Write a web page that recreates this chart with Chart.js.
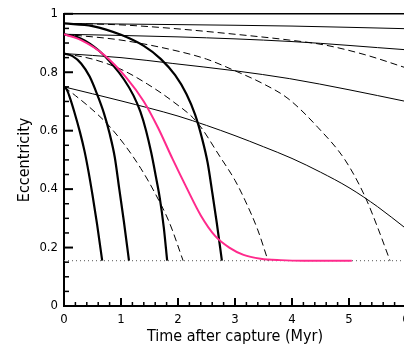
<!DOCTYPE html>
<html>
<head>
<meta charset="utf-8">
<script src="https://cdn.jsdelivr.net/npm/chart.js@4.4.1/dist/chart.umd.min.js"></script>
<style>
  html, body { margin: 0; padding: 0; background: #fff; overflow: hidden; }
  #wrap { position: relative; width: 424px; height: 348px; }
</style>
</head>
<body>
<div id="wrap"><canvas id="myChart"></canvas></div>
<script>
// time after capture (Myr) and eccentricity
// thick solid = fast decay, dashed = medium, thin solid = slow
const fast97T = [0, 0.5, 1.0, 1.4, 1.7, 1.95, 2.15, 2.3, 2.42, 2.52, 2.6, 2.68, 2.77];
const fast97E = [0.967, 0.958, 0.928, 0.89, 0.845, 0.79, 0.725, 0.655, 0.575, 0.49, 0.39, 0.285, 0.155];
const fast93T = [0, 0.3, 0.6, 0.85, 1.05, 1.22, 1.34, 1.44, 1.53, 1.61, 1.68, 1.75, 1.81];
const fast93E = [0.93, 0.915, 0.876, 0.826, 0.776, 0.72, 0.665, 0.60, 0.525, 0.445, 0.37, 0.27, 0.155];
const fast86T = [0, 0.15, 0.3, 0.45, 0.58, 0.7, 0.8, 0.89, 0.97, 1.05, 1.14];
const fast86E = [0.864, 0.855, 0.83, 0.785, 0.725, 0.66, 0.59, 0.51, 0.40, 0.29, 0.155];
const fast75T = [0, 0.05, 0.1, 0.18, 0.28, 0.36, 0.43, 0.5, 0.58, 0.67];
const fast75E = [0.75, 0.74, 0.715, 0.665, 0.595, 0.53, 0.46, 0.38, 0.28, 0.155];

const mid97T = [0, 1.0, 1.9, 3.0, 3.96, 4.58, 5.28, 6.0];
const mid97E = [0.967, 0.962, 0.95, 0.93, 0.91, 0.893, 0.86, 0.815];
const mid93T = [0, 1, 2, 2.5, 3, 3.5, 3.93, 4.46, 4.93, 5.28, 5.5, 5.72];
const mid93E = [0.93, 0.91, 0.872, 0.845, 0.805, 0.76, 0.71, 0.61, 0.50, 0.375, 0.27, 0.155];
const mid86T = [0, 0.5, 1.0, 1.46, 1.91, 2.33, 2.74, 3.0, 3.18, 3.4, 3.58];
const mid86E = [0.864, 0.845, 0.81, 0.76, 0.70, 0.63, 0.51, 0.43, 0.36, 0.26, 0.155];
const mid75T = [0, 0.2, 0.45, 0.75, 1.05, 1.35, 1.6, 1.85, 2.09];
const mid75E = [0.75, 0.72, 0.68, 0.625, 0.555, 0.47, 0.385, 0.285, 0.155];

const slow97T = [0, 2, 4, 6];
const slow97E = [0.967, 0.963, 0.958, 0.949];
const slow93T = [0, 2, 4, 6];
const slow93E = [0.93, 0.921, 0.905, 0.877];
const slow86T = [0, 1, 1.91, 3, 3.96, 5, 6];
const slow86E = [0.864, 0.85, 0.83, 0.805, 0.778, 0.74, 0.70];
const slow75T = [0, 1, 2, 2.5, 3, 3.5, 4, 4.5, 5, 5.5, 6];
const slow75E = [0.75, 0.702, 0.65, 0.618, 0.583, 0.545, 0.505, 0.458, 0.405, 0.34, 0.265];

const pinkT = [0, 0.3, 0.7, 1.1, 1.4, 1.65, 1.9, 2.15, 2.4, 2.65, 2.9, 3.15, 3.45, 3.8, 4.2, 5.05];
const pinkE = [0.93, 0.91, 0.86, 0.78, 0.70, 0.61, 0.505, 0.405, 0.31, 0.24, 0.2, 0.175, 0.162, 0.157, 0.155, 0.155];

const floorT = [0, 6];
const floorE = [0.155, 0.155];

const xTicks = [0, 1, 2, 3, 4, 5, 6];
const yTicks = [0, 0.2, 0.4, 0.6, 0.8, 1];

Chart.defaults.font.family = "'Liberation Sans Narrow', 'DejaVu Sans Condensed', sans-serif";
Chart.defaults.color = '#000';

function pts(ts, es) {
  return ts.map((t, i) => ({ x: t, y: es[i] }));
}

const thick = { borderColor: '#000', borderWidth: 2.2 };
const thin = { borderColor: '#000', borderWidth: 1 };
const dash = { borderColor: '#000', borderWidth: 1, borderDash: [7, 4] };

function line(ts, es, style) {
  return Object.assign({ data: pts(ts, es), pointRadius: 0, cubicInterpolationMode: 'monotone', fill: false }, style);
}

// inward minor/major tick marks and the top frame line
const frame = {
  id: 'frame',
  afterDatasetsDraw(chart) {
    const { ctx, chartArea: a, scales: { x, y } } = chart;
    ctx.save();
    ctx.strokeStyle = '#000';
    ctx.lineWidth = 1.5;
    ctx.beginPath();
    ctx.moveTo(a.left, a.top);
    ctx.lineTo(a.right, a.top);
    ctx.stroke();
    for (let i = 0; i <= 30; i++) {
      const px = x.getPixelForValue(i * 0.2);
      const major = i % 5 === 0;
      ctx.lineWidth = major ? 2 : 1.5;
      ctx.beginPath();
      ctx.moveTo(px, a.bottom);
      ctx.lineTo(px, a.bottom - (major ? 8 : 4));
      ctx.stroke();
    }
    for (let i = 0; i <= 20; i++) {
      const py = y.getPixelForValue(i * 0.05);
      const major = i % 4 === 0;
      ctx.lineWidth = major ? 2 : 1.5;
      ctx.beginPath();
      ctx.moveTo(a.left, py);
      ctx.lineTo(a.left + (major ? 9 : 5), py);
      ctx.stroke();
    }
    ctx.restore();
  }
};

const ctx = document.getElementById('myChart').getContext('2d');

new Chart(ctx, {
  type: 'line',
  data: {
    datasets: [
      line(pinkT, pinkE, { borderColor: '#ff2a8c', borderWidth: 2 }),
      line(fast97T, fast97E, thick),
      line(fast93T, fast93E, thick),
      line(fast86T, fast86E, thick),
      line(fast75T, fast75E, thick),
      line(mid97T, mid97E, dash),
      line(mid93T, mid93E, dash),
      line(mid86T, mid86E, dash),
      line(mid75T, mid75E, dash),
      line(slow97T, slow97E, thin),
      line(slow93T, slow93E, thin),
      line(slow86T, slow86E, thin),
      line(slow75T, slow75E, thin),
      line(floorT, floorE, { borderColor: '#777', borderWidth: 1.2, borderDash: [1, 3], tension: 0 })
    ]
  },
  options: {
    responsive: true,
    maintainAspectRatio: false,
    animation: false,
    events: [],
    layout: { padding: { top: 12, right: 18, left: 0, bottom: 0 } },
    plugins: { legend: { display: false }, tooltip: { enabled: false } },
    scales: {
      x: {
        type: 'linear',
        min: 0,
        max: 6,
        afterBuildTicks(axis) { axis.ticks = xTicks.map(v => ({ value: v })); },
        afterFit(axis) { axis.height = 42; },
        grid: { display: false, drawTicks: false },
        border: { display: true, color: '#000', width: 2 },
        ticks: { padding: 6, font: { size: 13 }, maxRotation: 0, autoSkip: false },
        title: { display: true, text: 'Time after capture (Myr)', font: { size: 16 }, padding: { top: 0, bottom: 2 } }
      },
      y: {
        min: 0,
        max: 1,
        afterBuildTicks(axis) { axis.ticks = yTicks.map(v => ({ value: v })); },
        afterFit(axis) { axis.width = 64; },
        grid: { display: false, drawTicks: false },
        border: { display: true, color: '#000', width: 2 },
        ticks: { padding: 6, font: { size: 13 }, callback: v => String(Math.round(v * 10) / 10) },
        title: { display: true, text: 'Eccentricity', font: { size: 16 }, padding: { top: 15, bottom: 0 } }
      }
    }
  },
  plugins: [frame]
});
</script>
</body>
</html>
